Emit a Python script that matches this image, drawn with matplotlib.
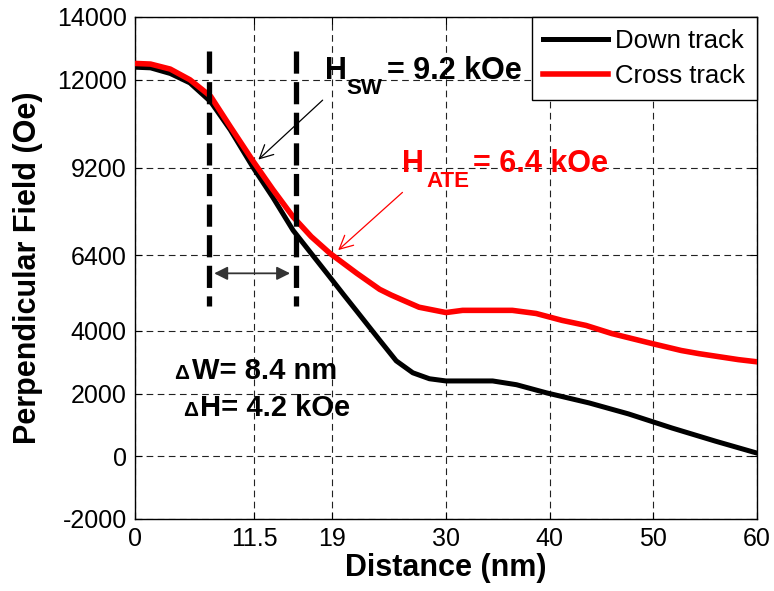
import matplotlib
matplotlib.use("Agg")
import matplotlib.pyplot as plt

plt.rcParams['font.family'] = ['Liberation Sans', 'DejaVu Sans']

# Perpendicular head field profiles
x_down = [0, 1.5, 3.4, 5.3, 7.3, 9.2, 11.4, 13.3, 15.25, 17.2, 18.8, 20.1, 21.4,
          23.6, 25.2, 26.8, 28.4, 30, 34.5, 36.8, 39.7, 43.8, 47.6, 51.8, 56, 60]
y_down = [12400, 12380, 12200, 11900, 11300, 10400, 9200, 8250, 7200, 6380, 5710,
          5160, 4620, 3700, 3040, 2660, 2470, 2400, 2400, 2280, 2020, 1700, 1350,
          900, 480, 100]

x_cross = [0, 1.5, 3.4, 5.3, 7.3, 9.2, 11.4, 13.3, 15.25, 17, 18.8, 21.4, 23.6,
           24.7, 25.8, 27.4, 30, 31.6, 36.4, 38.7, 41.2, 43.5, 46, 49.9, 52.7,
           54.4, 58.2, 60]
y_cross = [12520, 12500, 12340, 12000, 11470, 10500, 9400, 8500, 7630, 7000, 6470,
           5830, 5320, 5140, 4980, 4750, 4580, 4650, 4650, 4550, 4330, 4170, 3910,
           3590, 3370, 3270, 3080, 3010]

x_ticks = [0, 11.5, 19, 30, 40, 50, 60]
y_ticks = [-2000, 0, 2000, 4000, 6400, 9200, 12000, 14000]

# write-width window
w_center = 11.3
delta_w = 8.4
w_low, w_high = 4800, 12920

fig = plt.figure(figsize=(7.74, 5.91), dpi=100)
ax = fig.add_axes([135 / 774, 1 - 519 / 591, (757 - 135) / 774, (519 - 17) / 591])

ax.plot(x_down, y_down, color='black', lw=3.6, label='Down track', zorder=3)
ax.plot(x_cross, y_cross, color='#ff0000', lw=4.0, label='Cross track', zorder=3)

for xv in (w_center - delta_w / 2, w_center + delta_w / 2):
    ax.plot([xv, xv], [w_high, w_low], color='black', lw=3.8,
            dashes=(4.2, 1.6), zorder=4)

ax.set_xlim(0, 60)
ax.set_ylim(-2000, 14000)
ax.set_xticks(x_ticks)
ax.set_xticklabels(['0', '11.5', '19', '30', '40', '50', '60'])
ax.set_yticks(y_ticks)
ax.set_yticklabels([str(v) for v in y_ticks])
ax.tick_params(direction='in', length=5, width=0.8, top=True, right=True,
               labelsize=18, pad=6)
ax.grid(True, color='#222222', lw=0.8, dashes=(6, 4))
for s in ax.spines.values():
    s.set_linewidth(1.0)

ax.set_xlabel('Distance (nm)', fontsize=22, fontweight='bold')
ax.xaxis.set_label_coords(0.5, -0.068)
ax.set_ylabel('Perpendicular Field (Oe)', fontsize=22, fontweight='bold')
ax.yaxis.set_label_coords(-0.148, 0.5)

leg = ax.legend(loc='upper right', bbox_to_anchor=(1, 1), borderaxespad=0,
                fontsize=18.5, handlelength=2.5, handletextpad=0.3,
                labelspacing=0.45, borderpad=0.45, fancybox=False,
                framealpha=1, edgecolor='black')
leg.get_frame().set_linewidth(1.0)
leg.set_zorder(6)

# switching field annotation
ax.text(18.3, 12020, 'H', fontsize=22, fontweight='bold', va='baseline', zorder=5)
ax.text(20.4, 11540, 'SW', fontsize=16, fontweight='bold', va='baseline', zorder=5)
ax.text(24.3, 12020, '= 9.2 kOe', fontsize=22, fontweight='bold', va='baseline', zorder=5)
ax.annotate('', xy=(11.9, 9455), xytext=(18.1, 11350),
            arrowprops=dict(arrowstyle='->', color='black', lw=0.9,
                            shrinkA=0, shrinkB=0, mutation_scale=24))

# adjacent track erasure annotation
ax.text(25.8, 9070, 'H', fontsize=22, fontweight='bold', color='#ff0000',
        va='baseline', zorder=5)
ax.text(28.1, 8590, 'ATE', fontsize=16, fontweight='bold', color='#ff0000',
        va='baseline', zorder=5)
ax.text(32.6, 9070, '= 6.4 kOe', fontsize=22, fontweight='bold', color='#ff0000',
        va='baseline', zorder=5)
ax.annotate('', xy=(19.6, 6570), xytext=(25.8, 8410),
            arrowprops=dict(arrowstyle='->', color='#ff0000', lw=0.9,
                            shrinkA=0, shrinkB=0, mutation_scale=24))

# width arrow between the dashed markers
ax.annotate('', xy=(w_center - delta_w / 2, 5830), xytext=(w_center + delta_w / 2, 5830),
            arrowprops=dict(arrowstyle='<|-|>', color='#333333', lw=1.3,
                            shrinkA=4, shrinkB=4, mutation_scale=20), zorder=5)

ax.text(3.75, 2470, 'Δ', fontsize=15, fontweight='bold', va='baseline')
ax.text(5.5, 2470, 'W= 8.4 nm', fontsize=21, fontweight='bold', va='baseline')
ax.text(4.6, 1280, 'Δ', fontsize=15, fontweight='bold', va='baseline')
ax.text(6.3, 1280, 'H= 4.2 kOe', fontsize=21, fontweight='bold', va='baseline')

fig.savefig('out.png', dpi=100)
